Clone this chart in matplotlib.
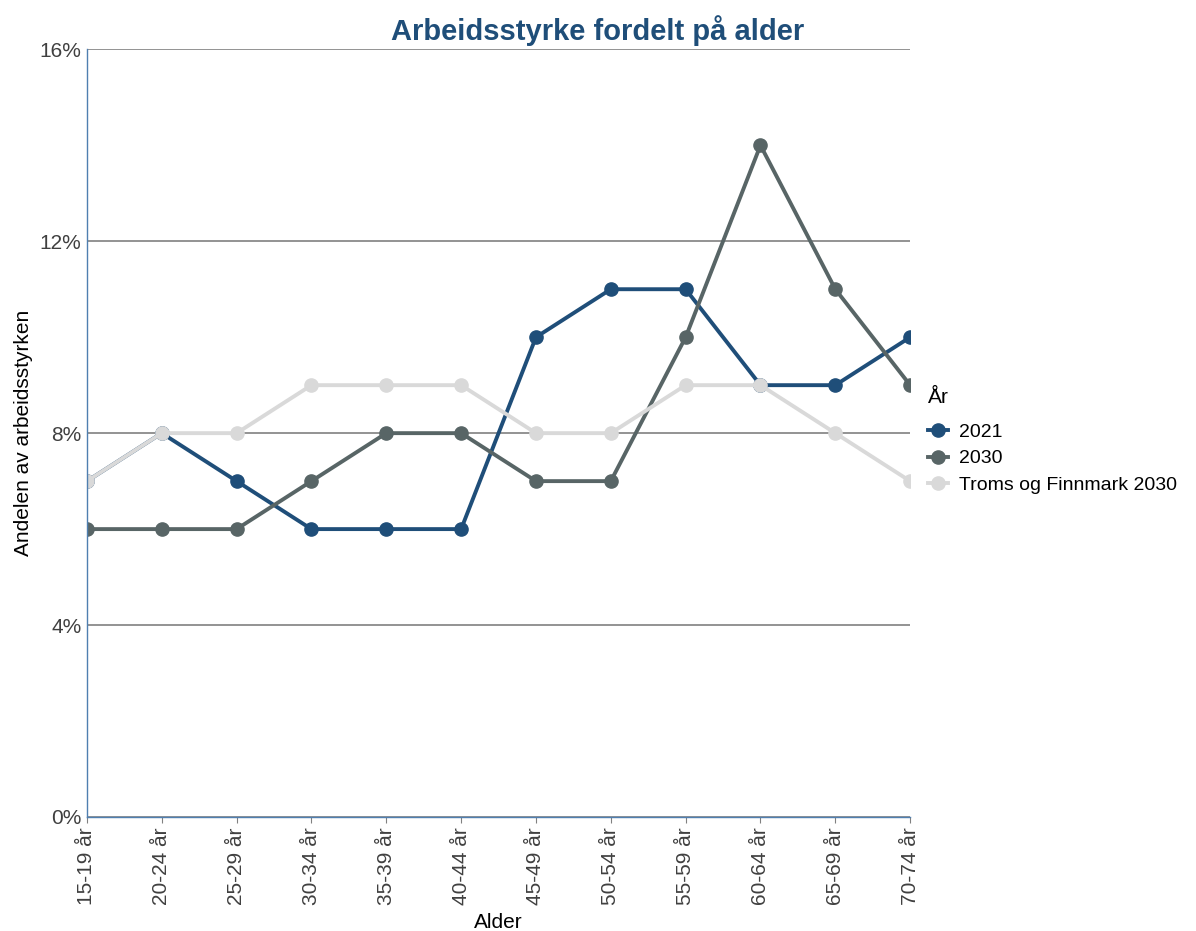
import numpy as np
import matplotlib
matplotlib.use("Agg")
import matplotlib.pyplot as plt
from matplotlib.ticker import FuncFormatter

plt.rcParams["font.family"] = ["Liberation Sans", "DejaVu Sans"]

ages = ["15-19 år", "20-24 år", "25-29 år", "30-34 år", "35-39 år", "40-44 år",
        "45-49 år", "50-54 år", "55-59 år", "60-64 år", "65-69 år", "70-74 år"]
v2021 = [7, 8, 7, 6, 6, 6, 10, 11, 11, 9, 9, 10]
v2030 = [6, 6, 6, 7, 8, 8, 7, 7, 10, 14, 11, 9]
troms2030 = [7, 8, 8, 9, 9, 9, 8, 8, 9, 9, 8, 7]

series = [("2021", v2021, "#1F4E79"),
          ("2030", v2030, "#586566"),
          ("Troms og Finnmark 2030", troms2030, "#D9D9D9")]

fig = plt.figure(figsize=(11.96, 9.31), dpi=100)
ax = fig.add_axes([0.0727, 0.1225, 0.6883, 0.8245])

x = np.arange(len(ages))
for name, vals, col in series:
    ax.plot(x, vals, color=col, lw=2.8, marker="o", markersize=9.5, label=name)

ax.set_xlim(0, len(ages) - 1)
ax.set_ylim(0, 16)
ax.set_yticks([0, 4, 8, 12, 16])
ax.yaxis.set_major_formatter(FuncFormatter(lambda v, p: f"{v:.0f}%"))
ax.set_xticks(x)
ax.set_xticklabels(ages, rotation=90)
ax.grid(axis="y", color="#808080", lw=1.2)
ax.set_axisbelow(True)

for s in ["top", "right"]:
    ax.spines[s].set_visible(False)
for s in ["left", "bottom"]:
    ax.spines[s].set_color("#4F7FB0")
    ax.spines[s].set_linewidth(1.0)
ax.tick_params(axis="y", length=0, labelsize=15, colors="#404040", pad=4)
ax.tick_params(axis="x", length=4, color="#808080", labelsize=15, labelcolor="#404040")

ax.set_xlabel("Alder", fontsize=15, labelpad=6)
ax.set_ylabel("Andelen av arbeidsstyrken", fontsize=15, labelpad=5)
fig.suptitle("Arbeidsstyrke fordelt på alder", x=0.5, y=0.984, fontsize=21,
             fontweight="bold", color="#1F4E79")

leg = ax.legend(title="År", loc="center left", bbox_to_anchor=(1.01, 0.49),
                frameon=False, fontsize=14, title_fontsize=15, handlelength=1.0,
                handletextpad=0.6, labelspacing=0.45, borderpad=0)
leg._legend_box.align = "left"
leg._legend_box.sep = 12

fig.savefig("out.png", dpi=100)
